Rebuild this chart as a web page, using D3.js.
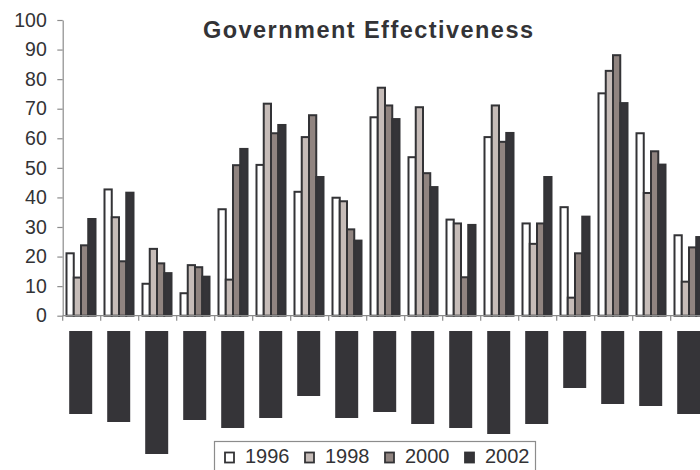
<!DOCTYPE html>
<html>
<head>
<meta charset="utf-8">
<script src="https://cdn.jsdelivr.net/npm/d3@7"></script>
<style>
  html, body { margin: 0; padding: 0; background: #fff; }
  svg { display: block; font-family: "Liberation Sans", Arial, Helvetica, sans-serif; }
</style>
</head>
<body>
<svg id="chart" width="700" height="470"></svg>
<script>
// Government effectiveness percentile ranks, 17 countries, four survey years
const categories = ["c01","c02","c03","c04","c05","c06","c07","c08","c09",
                    "c10","c11","c12","c13","c14","c15","c16","c17"];
const years = ["1996", "1998", "2000", "2002"];

const v1996 = [21.1, 42.7, 10.8,  7.6, 36.0, 51.0, 41.9, 39.9, 67.1, 53.6, 32.5, 60.4, 31.2, 36.7, 75.2, 61.7, 27.2];
const v1998 = [12.9, 33.3, 22.6, 17.1, 12.2, 71.7, 60.4, 38.7, 77.1, 70.5, 31.2, 71.1, 24.3,  6.1, 82.8, 41.5, 11.5];
const v2000 = [23.8, 18.4, 17.7, 16.4, 50.9, 61.7, 67.8, 29.2, 71.1, 48.2, 13.0, 58.8, 31.2, 21.1, 88.1, 55.6, 23.1];
const v2002 = [32.7, 41.6, 14.4, 13.2, 56.4, 64.5, 46.9, 25.4, 66.5, 43.5, 30.7, 61.8, 46.9, 33.5, 71.9, 51.1, 26.6];

// Lengths of the masked (blacked-out) country name labels under the axis
const labelMaskLen = [83, 91, 123, 89, 97, 87, 65, 87, 81, 93, 97, 103, 93, 57, 73, 75, 83];

const yTicks = [0, 10, 20, 30, 40, 50, 60, 70, 80, 90, 100];

const seriesByYear = { "1996": v1996, "1998": v1998, "2000": v2000, "2002": v2002 };
const fills = { "1996": "#ffffff", "1998": "#c6bcb8", "2000": "#908480", "2002": "#353438" };

const svg = d3.select("#chart");
const axisColor = "#8c8c8c";
const inkColor = "#333336";

const y0 = 315.7, yTop = 20;
const xLeft = 62.7, groupStep = 38;

const x = d3.scaleBand()
  .domain(categories)
  .range([xLeft, xLeft + groupStep * categories.length])
  .padding(0);

const xInner = d3.scaleBand()
  .domain(years)
  .range([3.8, 32.8])
  .padding(0);

const y = d3.scaleLinear().domain([0, 100]).range([y0, yTop]);

// Title
svg.append("text")
  .attr("x", 368)
  .attr("y", 38)
  .attr("text-anchor", "middle")
  .attr("font-size", 23.5)
  .attr("font-weight", "bold")
  .attr("fill", inkColor)
  .attr("textLength", 330)
  .attr("lengthAdjust", "spacing")
  .text("Government Effectiveness");

// Bars
const table = categories.map((c, i) => ({
  cat: c,
  values: years.map(yr => ({ year: yr, value: seriesByYear[yr][i] }))
}));

const groups = svg.append("g").selectAll("g")
  .data(table)
  .join("g")
  .attr("transform", d => `translate(${x(d.cat)},0)`);

groups.selectAll("rect")
  .data(d => d.values)
  .join("rect")
  .attr("x", d => xInner(d.year))
  .attr("y", d => y(d.value))
  .attr("width", xInner.bandwidth())
  .attr("height", d => y(0) - y(d.value))
  .attr("fill", d => fills[d.year])
  .attr("stroke", inkColor)
  .attr("stroke-width", 2);

// Y axis
const yAxis = d3.axisLeft(y)
  .tickValues(yTicks)
  .tickSize(5.4)
  .tickPadding(10.5)
  .tickSizeOuter(0);

const gy = svg.append("g")
  .attr("transform", `translate(${xLeft},0)`)
  .call(yAxis);
gy.select(".domain").attr("stroke", axisColor).attr("stroke-width", 1.2);
gy.selectAll(".tick line").attr("stroke", axisColor).attr("stroke-width", 1.2);
gy.selectAll(".tick text")
  .attr("font-size", 19.5)
  .attr("font-family", "Liberation Sans, Arial, sans-serif")
  .attr("fill", inkColor);

// X axis: tick marks at group boundaries, no labels
const boundaries = categories.map(c => x(c));
const gx = svg.append("g");
gx.append("line")
  .attr("x1", xLeft).attr("x2", x.range()[1])
  .attr("y1", y0).attr("y2", y0)
  .attr("stroke", axisColor).attr("stroke-width", 1.2);
gx.selectAll("line.tk")
  .data(boundaries)
  .join("line")
  .attr("class", "tk")
  .attr("x1", d => d).attr("x2", d => d)
  .attr("y1", y0).attr("y2", y0 + 5)
  .attr("stroke", axisColor).attr("stroke-width", 1.2);

// Bars are drawn over the baseline
groups.raise();

// Masked category labels (solid blocks hanging under the axis)
const maskLen = d3.scaleLinear().domain([0, 100]).range([0, 100]);
const maskTop = 331, maskW = 23;
svg.append("g").selectAll("rect")
  .data(categories.map((c, i) => ({ cat: c, len: labelMaskLen[i] })))
  .join("rect")
  .attr("x", d => x(d.cat) + x.bandwidth() / 2 - 1 - maskW / 2)
  .attr("y", maskTop)
  .attr("width", maskW)
  .attr("height", d => maskLen(d.len))
  .attr("fill", "#353438");

// Legend
const legend = svg.append("g");
legend.append("rect")
  .attr("x", 214.5).attr("y", 441.5)
  .attr("width", 321).attr("height", 32)
  .attr("fill", "#fff")
  .attr("stroke", "#8c8c8c")
  .attr("stroke-width", 1.2);

const legendX = d3.scalePoint().domain(years).range([224, 464]);
const items = legend.selectAll("g.item")
  .data(years)
  .join("g")
  .attr("class", "item")
  .attr("transform", d => `translate(${legendX(d)},0)`);
items.append("rect")
  .attr("x", 1).attr("y", 452.5)
  .attr("width", 9).attr("height", 10)
  .attr("fill", d => fills[d])
  .attr("stroke", inkColor)
  .attr("stroke-width", 1.8);
items.append("text")
  .attr("x", 21)
  .attr("y", 463.3)
  .attr("font-size", 20)
  .attr("fill", inkColor)
  .text(d => d);
</script>
</body>
</html>
